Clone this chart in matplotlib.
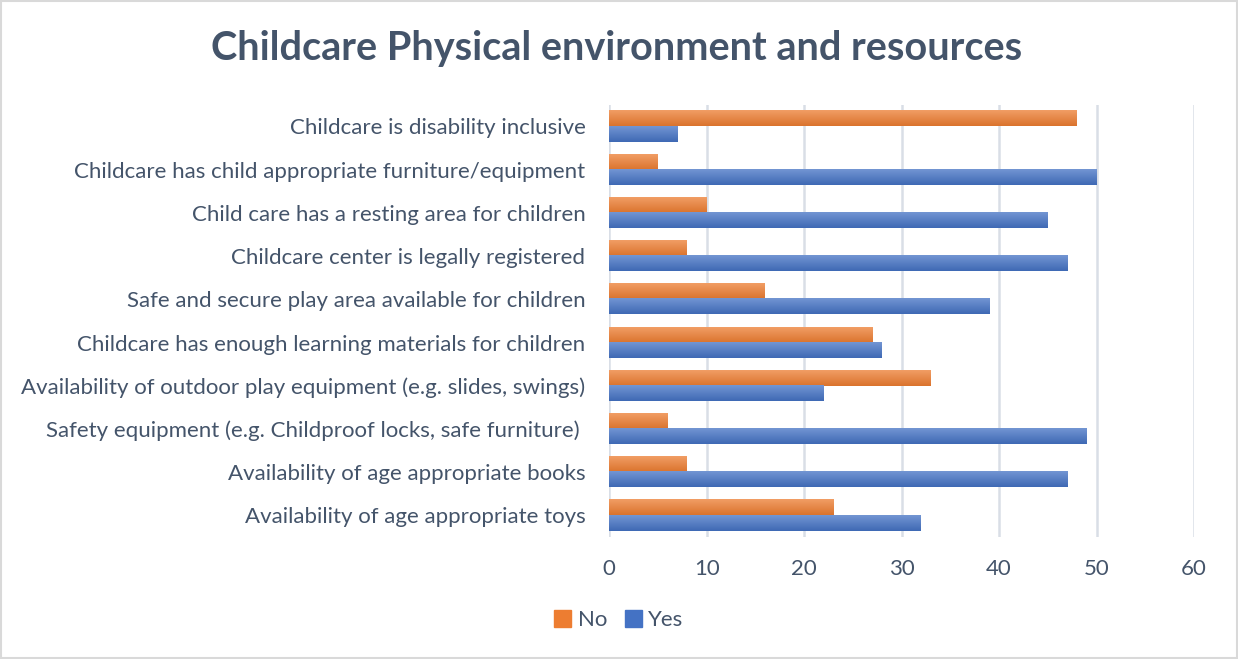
import matplotlib
matplotlib.use("Agg")
import matplotlib.pyplot as plt
import matplotlib.colors as mcolors
from matplotlib.patches import Rectangle
import numpy as np

plt.rcParams['font.family'] = ['Lato', 'DejaVu Sans']

categories = [
    "Childcare is disability inclusive",
    "Childcare has child appropriate furniture/equipment",
    "Child care has a resting area for children",
    "Childcare center is legally registered",
    "Safe and secure play area available for children",
    "Childcare has enough learning materials for children",
    "Availability of outdoor play equipment (e.g. slides, swings)",
    "Safety equipment (e.g. Childproof locks, safe furniture) ",
    "Availability of age appropriate books",
    "Availability of age appropriate toys",
]
no_vals = [48, 5, 10, 8, 16, 27, 33, 6, 8, 23]
yes_vals = [7, 50, 45, 47, 39, 28, 22, 49, 47, 32]

text_col = "#44546A"
orange = "#ED7D31"
blue = "#4472C4"


def shade(ax, bars, base):
    # vertical gradient: lighter on top, full colour below
    c = np.array(mcolors.to_rgb(base))
    light = c + (1 - c) * 0.25
    dark = c * 0.92
    grad = np.linspace(0, 1, 64).reshape(-1, 1)
    rgb = light[None, None, :] * (1 - grad[..., None]) + dark[None, None, :] * grad[..., None]
    for b in bars:
        x, y = b.get_x(), b.get_y()
        w, h = b.get_width(), b.get_height()
        # y axis is inverted, so image row 0 sits at the top edge
        ax.imshow(rgb, extent=(x, x + w, y + h, y), aspect='auto',
                  interpolation='bilinear', zorder=3)
        b.set_alpha(0)


fig = plt.figure(figsize=(12.38, 6.59), dpi=100)
ax = fig.add_axes([0.492, 0.185, 0.4725, 0.656])

y = np.arange(len(categories))
h = 0.35
bars_no = ax.barh(y - h / 2, no_vals, height=h, color=orange, label="No", zorder=3)
bars_yes = ax.barh(y + h / 2, yes_vals, height=h, color=blue, label="Yes", zorder=3)
shade(ax, bars_no, orange)
shade(ax, bars_yes, blue)

ax.set_xlim(0, 60)
ax.set_ylim(len(categories) - 0.5, -0.5)
ax.set_xticks(range(0, 61, 10))
ax.set_yticks(y)
ax.set_yticklabels(categories)
ax.tick_params(axis='both', length=0, labelsize=16, colors=text_col)
ax.tick_params(axis='y', pad=17)
ax.tick_params(axis='x', pad=16)
ax.grid(axis='x', color="#D9DEE6", linewidth=1.8, zorder=0)
for s in ax.spines.values():
    s.set_visible(False)

fig.suptitle("Childcare Physical environment and resources", x=0.498, y=0.955,
             fontsize=28.5, fontweight='bold', color=text_col)

handles = [Rectangle((0, 0), 1, 1, color=orange), Rectangle((0, 0), 1, 1, color=blue)]
fig.legend(handles, ["No", "Yes"], loc='center', bbox_to_anchor=(0.5, 0.059), ncol=2,
           frameon=False, fontsize=16, labelcolor=text_col, handlelength=0.75,
           handleheight=0.75, handletextpad=0.3, columnspacing=0.8)

fig.patches.append(Rectangle((0.001, 0.001), 0.998, 0.997, transform=fig.transFigure,
                             fill=False, edgecolor="#D9D9D9", linewidth=1.5))

fig.savefig("out.png", dpi=100)
